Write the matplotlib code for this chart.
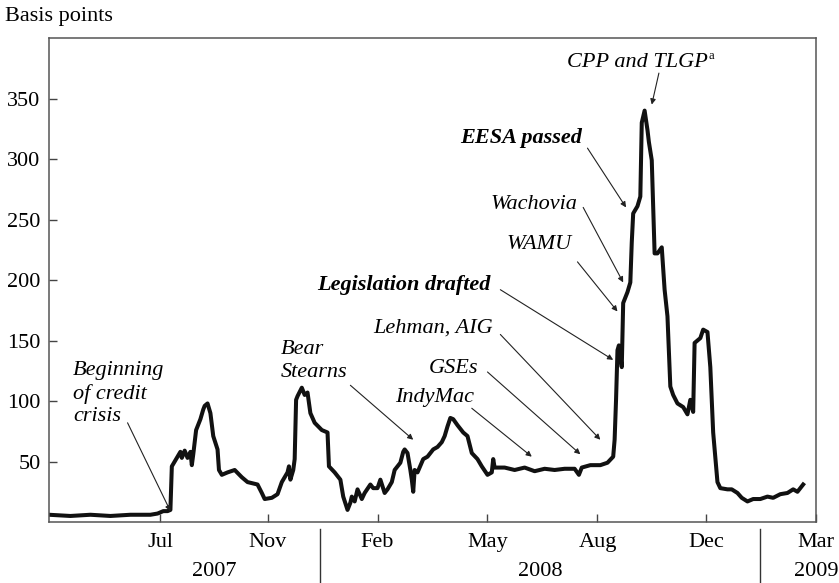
import matplotlib
matplotlib.use("Agg")
import matplotlib.pyplot as plt
import matplotlib.transforms as mtransforms

# trading-day index and spread (basis points)
day = [0, 15, 29, 43, 57, 71, 76, 80, 83, 85, 86, 88, 90, 92, 93, 95, 97, 99, 100, 101,
       103, 106, 108, 109, 111, 112, 113, 115, 118, 119, 121, 125, 130, 135, 139, 146, 149, 151,
       156, 160, 163, 167, 168, 169, 171, 172, 173, 174, 177, 179, 181, 183, 186, 191, 195, 196,
       200, 204, 206, 209, 211, 212, 214, 216, 219, 221, 225, 227, 230, 232, 235, 237, 240, 242,
       246, 248, 249, 251, 253, 254, 255, 256, 258, 262, 265, 269, 272, 275, 277, 279, 281, 283,
       286, 290, 293, 296, 300, 303, 307, 310, 311, 312, 319, 326, 333, 340, 347, 354, 361, 368,
       371, 373, 379, 386, 391, 395, 396, 397, 398, 399, 401, 402, 405, 407, 408, 409, 412, 414,
       415, 417, 419, 420, 422, 423, 424, 426, 429, 431, 433, 435, 437, 440, 444, 447, 449, 451,
       452, 456, 458, 461, 463, 465, 468, 470, 475, 478, 482, 485, 489, 493, 498, 503, 507, 512,
       517, 521, 524, 528]
spread = [6, 5, 6, 5, 6, 6, 7, 9, 9, 10, 46, 50, 54, 58, 53, 59, 53, 58, 47, 56,
          76, 85, 93, 96, 98, 94, 90, 71, 60, 43, 39, 41, 43, 37, 33, 31, 24, 19,
          20, 23, 33, 41, 46, 35, 43, 52, 101, 104, 111, 105, 107, 90, 82, 76, 74, 46,
          41, 35, 21, 10, 16, 21, 17, 27, 19, 24, 31, 28, 28, 35, 24, 27, 33, 43,
          49, 58, 60, 57, 43, 35, 25, 43, 41, 52, 54, 60, 62, 66, 71, 79, 86, 85,
          80, 74, 71, 57, 52, 46, 39, 41, 52, 45, 45, 43, 45, 42, 44, 43, 44, 44,
          39, 45, 47, 47, 49, 54, 68, 101, 142, 146, 128, 181, 190, 198, 231, 255, 261, 269,
          330, 340, 324, 314, 299, 261, 222, 222, 227, 192, 170, 112, 105, 98, 95, 89, 101, 91,
          148, 152, 159, 157, 128, 74, 33, 28, 27, 27, 24, 20, 17, 19, 19, 21, 20, 23,
          24, 27, 25, 31]

month_pos = [78, 153, 230, 307, 384, 460, 537]
month_labels = ["Jul", "Nov", "Feb", "May", "Aug", "Dec", "Mar"]
year_pos = [116, 344, 537]
year_labels = ["2007", "2008", "2009"]
year_breaks = [190, 498]
y_ticks = [50, 100, 150, 200, 250, 300, 350]

# (text, text x, text y, ha, bold, arrow tail, arrow head)
events = [
    ("Beginning\nof credit\ncrisis", 17, 106, "left", False, (55, 82), (85, 9)),
    ("Bear\nStearns", 162, 133, "left", False, (211, 113), (255, 68)),
    ("IndyMac", 270, 103, "center", False, (296, 94), (338, 54)),
    ("GSEs", 283, 127, "center", False, (307, 124), (372, 56)),
    ("Lehman, AIG", 311, 160, "right", False, (316, 155), (386, 68)),
    ("Legislation drafted", 309, 196, "right", True, (316, 192), (395, 134)),
    ("WAMU", 366, 229, "right", False, (370, 215), (398, 174)),
    ("Wachovia", 370, 262, "right", False, (374, 260), (402, 198)),
    ("EESA passed", 373, 317, "right", True, (377, 309), (404, 260)),
    ("CPP and TLGP", 461, 380, "right", False, (427, 371), (422, 345)),
]

plt.rcParams["font.family"] = ["Liberation Serif", "DejaVu Serif"]
fig = plt.figure(figsize=(8.39, 5.83), dpi=100)
ax = fig.add_axes([0.0584, 0.1046, 0.9142, 0.8302])

ax.plot(day, spread, color="#111111", lw=2.9, solid_joinstyle="round")

ax.set_xlim(0, 537)
ax.set_ylim(0, 400)
ax.set_xticks(month_pos)
ax.set_xticklabels(month_labels)
ax.set_yticks(y_ticks)
ax.tick_params(direction="in", length=6, width=1, color="#444444", labelsize=16, pad=8)
ax.tick_params(axis="y", pad=6)
for s in ax.spines.values():
    s.set_color("#555555")
    s.set_linewidth(1.1)

trans = mtransforms.blended_transform_factory(ax.transData, ax.transAxes)
for x, lab in zip(year_pos, year_labels):
    ax.text(x, -0.103, lab, transform=trans, ha="center", va="center", fontsize=16)
for x in year_breaks:
    ax.plot([x, x], [-0.015, -0.126], transform=trans, color="#333333", lw=1, clip_on=False)

fig.text(5 / 839, 1 - 17 / 583, "Basis points", ha="left", va="center", fontsize=16)

for txt, tx, ty, ha, bold, tail, head in events:
    ax.text(tx, ty, txt, ha=ha, va="center", fontsize=16, style="italic",
            fontweight="bold" if bold else "normal", linespacing=1.25)
    ax.annotate("", xy=head, xytext=tail,
                arrowprops=dict(arrowstyle="-|>", color="#222222", lw=0.8,
                                mutation_scale=8, shrinkA=0, shrinkB=0))
ax.text(462, 385, "a", ha="left", va="center", fontsize=9)

fig.savefig("out.png", dpi=100)
